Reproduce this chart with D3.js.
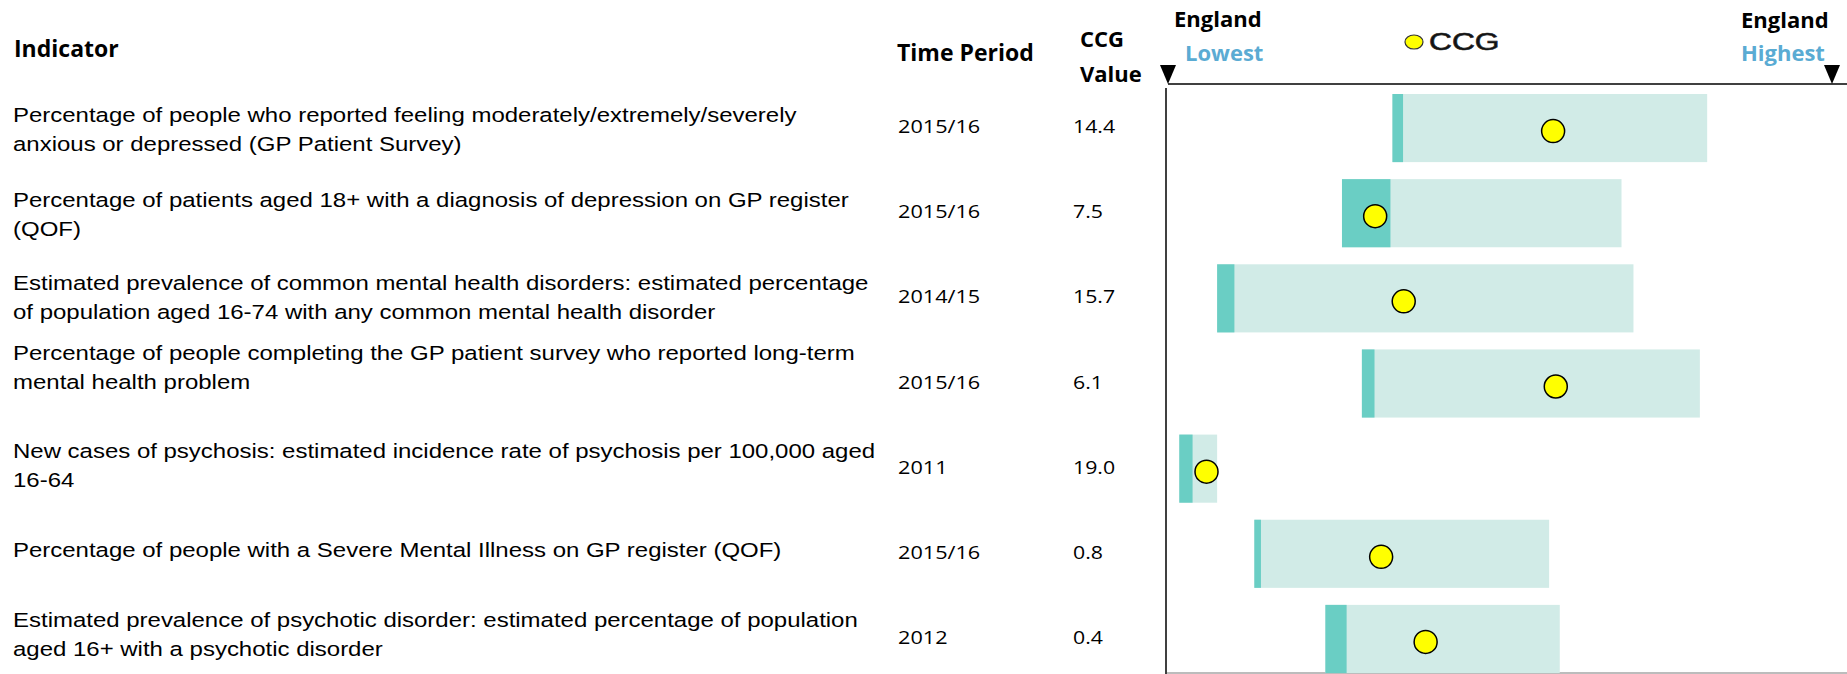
<!DOCTYPE html>
<html>
<head>
<meta charset="utf-8">
<script src="https://cdn.jsdelivr.net/npm/d3@7"></script>
<style>
  body { margin: 0; background: #fff; }
  svg { display: block; }
</style>
</head>
<body>
<div id="chart"></div>
<script>
// data
var indicators = [
  ['Percentage of people who reported feeling moderately/extremely/severely', 'anxious or depressed (GP Patient Survey)'],
  ['Percentage of patients aged 18+ with a diagnosis of depression on GP register', '(QOF)'],
  ['Estimated prevalence of common mental health disorders: estimated percentage', 'of population aged 16-74 with any common mental health disorder'],
  ['Percentage of people completing the GP patient survey who reported long-term', 'mental health problem'],
  ['New cases of psychosis: estimated incidence rate of psychosis per 100,000 aged', '16-64'],
  ['Percentage of people with a Severe Mental Illness on GP register (QOF)'],
  ['Estimated prevalence of psychotic disorder: estimated percentage of population', 'aged 16+ with a psychotic disorder']
];
var periods = ['2015/16', '2015/16', '2014/15', '2015/16', '2011', '2015/16', '2012'];
var ccgValues = ['14.4', '7.5', '15.7', '6.1', '19.0', '0.8', '0.4'];

// spine positions, 0 = England lowest, 100 = England highest
var rangeLow  = [33.8, 26.2, 7.4, 29.2, 1.7, 13.0, 23.7];
var rangeMark = [35.4, 33.5, 10.0, 31.1, 3.7, 14.0, 26.9];
var rangeHigh = [81.2, 68.3, 70.1, 80.1, 7.4, 57.4, 59.0];
var ccgPos    = [58.0, 31.2, 35.5, 58.4, 5.8, 32.1, 38.8];

// layout
var width = 1847,
  height = 674;
var labelDy = [-6, -6, -8, -24, -11, 3, -12]; // first baseline vs row centre
var lineGap = 29;

var svg = d3.select('#chart').append('svg')
    .attr('width', width)
    .attr('height', height);

var x = d3.scaleLinear()
    .domain([0, 100])
    .range([1168, 1832]);

var y = d3.scaleBand()
    .domain(d3.range(indicators.length))
    .range([94, 673])
    .paddingInner(0.2)
    .paddingOuter(0);

function mid(i) { return y(i) + y.bandwidth() / 2; }

// text stretched sideways like the source picture
function putText(g, str, px, py, sx) {
  return g.append('text')
      .attr('transform', 'translate(' + px + ',' + py + ') scale(' + sx + ',1)')
      .text(str);
}

// headers
var head = svg.append('g')
    .style('font-family', '"Open Sans", sans-serif')
    .style('font-weight', 700)
    .style('fill', '#000');

putText(head, 'Indicator', 14, 57, 1).style('font-size', '23px');
putText(head, 'Time Period', 897, 61, 1).style('font-size', '23px');
putText(head, 'CCG', 1080, 47, 1).style('font-size', '22px');
putText(head, 'Value', 1080, 82, 1).style('font-size', '22px');
putText(head, 'England', 1174, 27, 1).style('font-size', '22px');
putText(head, 'Lowest', 1185, 61, 1).style('font-size', '22px').style('fill', '#5aabd3');
putText(head, 'England', 1741, 28, 1).style('font-size', '22px');
putText(head, 'Highest', 1741, 61, 1).style('font-size', '22px').style('fill', '#5aabd3');

// legend
svg.append('ellipse')
    .attr('cx', 1414).attr('cy', 42)
    .attr('rx', 9).attr('ry', 7)
    .style('fill', '#ffff00')
    .style('stroke', '#333')
    .style('stroke-width', 1.2);
putText(svg, 'CCG', 1429, 50, 1.38)
    .style('font-family', '"Liberation Sans", Arial, sans-serif')
    .style('font-size', '23px')
    .style('fill', '#111')
    .style('stroke', '#222')
    .style('stroke-width', 0.6);

// spine axis
svg.append('line')
    .attr('x1', x(0)).attr('x2', width)
    .attr('y1', 84).attr('y2', 84)
    .style('stroke', '#404040')
    .style('stroke-width', 2);

svg.append('line')
    .attr('x1', 1166).attr('x2', 1166)
    .attr('y1', 88).attr('y2', height)
    .style('stroke', '#000')
    .style('stroke-width', 1.5);

svg.append('line')
    .attr('x1', 1167).attr('x2', width)
    .attr('y1', 673).attr('y2', 673)
    .style('stroke', '#a6a6a6')
    .style('stroke-width', 1.5);

svg.selectAll('path.marker')
  .data([0, 100])
  .enter().append('path')
    .attr('class', 'marker')
    .attr('d', function(d) {
      var cx = x(d);
      return 'M' + (cx - 8) + ',65L' + (cx + 8) + ',65L' + cx + ',84Z';
    })
    .style('fill', '#000');

// rows
var rows = svg.append('g')
  .selectAll('g')
  .data(d3.range(indicators.length))
  .enter().append('g');

rows.append('rect')
    .attr('x', function(i) { return x(rangeLow[i]); })
    .attr('y', function(i) { return y(i); })
    .attr('width', function(i) { return x(rangeHigh[i]) - x(rangeLow[i]); })
    .attr('height', y.bandwidth())
    .style('fill', '#d1ebe7');

rows.append('rect')
    .attr('x', function(i) { return x(rangeLow[i]); })
    .attr('y', function(i) { return y(i); })
    .attr('width', function(i) { return x(rangeMark[i]) - x(rangeLow[i]); })
    .attr('height', y.bandwidth())
    .style('fill', '#6acec4');

rows.append('circle')
    .attr('cx', function(i) { return x(ccgPos[i]); })
    .attr('cy', function(i) { return mid(i) + 3; })
    .attr('r', 11.5)
    .style('fill', '#ffff00')
    .style('stroke', '#000')
    .style('stroke-width', 1.5);

// indicator names, periods and values
rows.each(function(i) {
  var g = d3.select(this);
  indicators[i].forEach(function(line, k) {
    putText(g, line, 13, mid(i) + labelDy[i] + k * lineGap, 1.17)
        .style('font-family', '"Liberation Sans", Arial, sans-serif')
        .style('font-size', '20.5px')
        .style('fill', '#000');
  });
  putText(g, periods[i], 898, mid(i) + 5, 1.14)
      .style('font-family', '"Open Sans", sans-serif')
      .style('font-size', '19px')
      .style('fill', '#000');
  putText(g, ccgValues[i], 1073, mid(i) + 5, 1.12)
      .style('font-family', '"Open Sans", sans-serif')
      .style('font-size', '19px')
      .style('fill', '#000');
});
</script>
</body>
</html>
